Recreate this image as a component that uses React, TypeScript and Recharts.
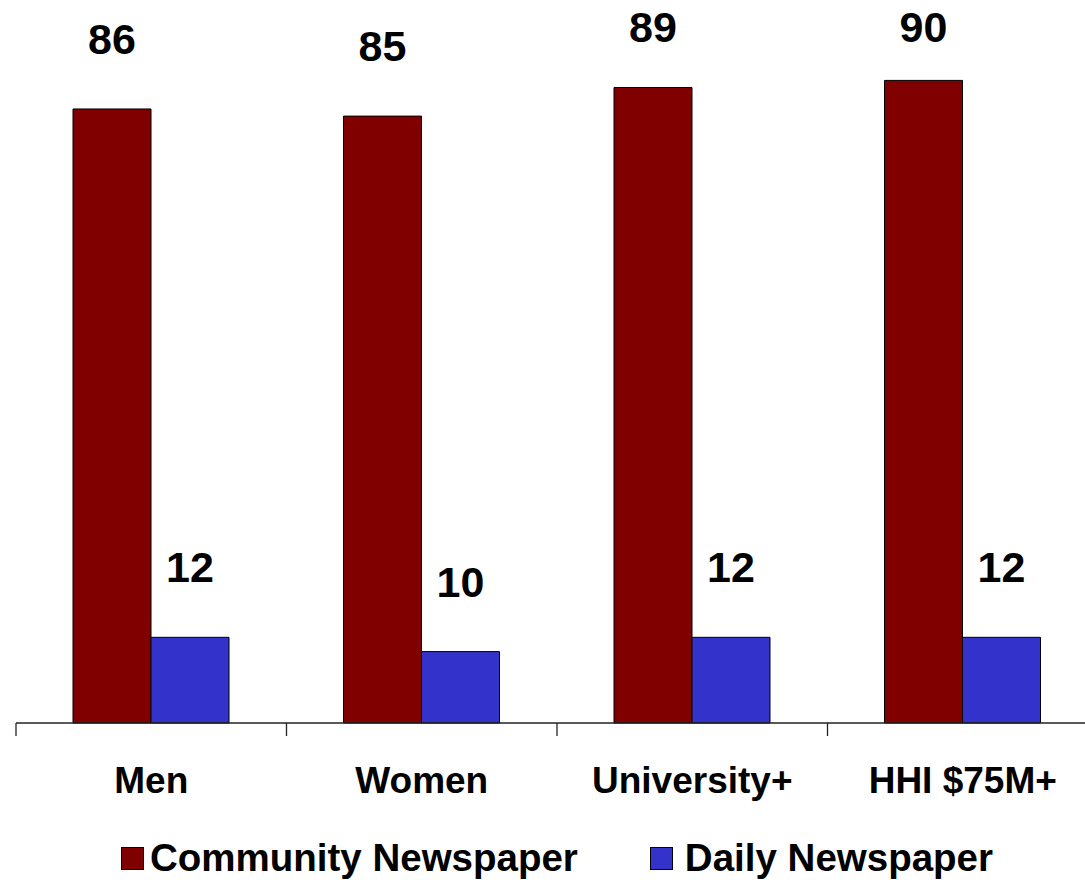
import { BarChart, Bar, XAxis, YAxis, Legend, LabelList } from 'recharts'

const categories = ['Men', 'Women', 'University+', 'HHI $75M+']
const communityValues = [86, 85, 89, 90]
const dailyValues = [12, 10, 12, 12]
const seriesNames = ['Community Newspaper', 'Daily Newspaper']
const seriesColors = ['#800000', '#3333CC']

const data = categories.map((name, i) => ({
  name,
  community: communityValues[i],
  daily: dailyValues[i],
}))

const FONT = '"Liberation Sans", Arial, sans-serif'

function CategoryTick(props: any) {
  const { x, y, payload } = props
  const edge = x - (payload.offset || 0)
  return (
    <g>
      <line x1={edge} y1={y} x2={edge} y2={y + 13} stroke="#222" strokeWidth={1.3} />
      <text
        x={x}
        y={y + 70}
        textAnchor="middle"
        fontFamily={FONT}
        fontWeight="bold"
        fontSize={37}
        fill="#000"
      >
        {payload.value}
      </text>
    </g>
  )
}

function ValueLabel(props: any) {
  const { x, y, width, value } = props
  // labels sit well above the bar, but never past the top of the frame
  const ty = Math.max(y - 55, 42)
  return (
    <text
      x={x + width / 2}
      y={ty}
      textAnchor="middle"
      fontFamily={FONT}
      fontWeight="bold"
      fontSize={43}
      fill="#000"
    >
      {value}
    </text>
  )
}

function LegendContent() {
  return (
    <div
      style={{
        display: 'flex',
        justifyContent: 'center',
        alignItems: 'center',
        gap: 72,
        height: 60,
        paddingTop: 16,
        boxSizing: 'border-box',
        fontFamily: FONT,
        fontWeight: 'bold',
        fontSize: 38.5,
        color: '#000',
      }}
    >
      {seriesNames.map((n, i) => (
        <div key={n} style={{ display: 'flex', alignItems: 'center', gap: i === 0 ? 6 : 12 }}>
          <span
            style={{
              display: 'inline-block',
              width: 21,
              height: 21,
              background: seriesColors[i],
              border: '1px solid #000',
            }}
          />
          <span style={{ lineHeight: 1.1 }}>{n}</span>
        </div>
      ))}
    </div>
  )
}

export default function App() {
  return (
    <div
      style={{
        position: 'absolute',
        left: 0,
        top: 0,
        width: 1085,
        height: 880,
        overflow: 'hidden',
        background: '#fff',
      }}
    >
      <BarChart
        width={1100}
        height={880}
        data={data}
        margin={{ top: 9, right: 2, left: 16, bottom: 0 }}
        barGap={0}
      >
        <XAxis
          dataKey="name"
          axisLine={{ stroke: '#222', strokeWidth: 1.3 }}
          tickLine={false}
          tickSize={0}
          tickMargin={0}
          height={97}
          interval={0}
          tick={<CategoryTick />}
        />
        <YAxis hide domain={[0, 100]} />
        <Legend
          verticalAlign="bottom"
          content={<LegendContent />}
          wrapperStyle={{ height: 60 }}
        />
        <Bar
          dataKey="community"
          name={seriesNames[0]}
          fill={seriesColors[0]}
          stroke="#000"
          strokeWidth={1}
          barSize={78}
          isAnimationActive={false}
        >
          <LabelList dataKey="community" content={<ValueLabel />} />
        </Bar>
        <Bar
          dataKey="daily"
          name={seriesNames[1]}
          fill={seriesColors[1]}
          stroke="#000"
          strokeWidth={1}
          barSize={78}
          isAnimationActive={false}
        >
          <LabelList dataKey="daily" content={<ValueLabel />} />
        </Bar>
      </BarChart>
    </div>
  )
}
